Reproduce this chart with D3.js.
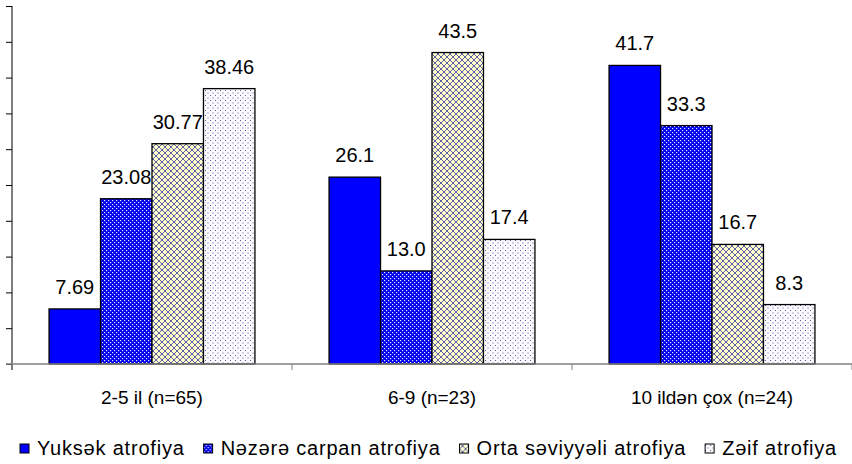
<!DOCTYPE html>
<html>
<head>
<meta charset="utf-8">
<script src="https://cdn.jsdelivr.net/npm/d3@7"></script>
<style>
  body { margin: 0; background: #fff; }
  text { font-family: "Liberation Sans", Arial, sans-serif; fill: #000; }
</style>
</head>
<body>
<div id="chart"></div>
<script>
// data
const categories = ["2-5 il (n=65)", "6-9 (n=23)", "10 ildən çox (n=24)"];
const seriesNames = ["Yuksək atrofiya", "Nəzərə carpan atrofiya", "Orta səviyyəli atrofiya", "Zəif atrofiya"];
const yuksek = [7.69, 26.1, 41.7];
const nezere = [23.08, 13.0, 33.3];
const orta   = [30.77, 43.5, 16.7];
const zeif   = [38.46, 17.4, 8.3];
const labels = [
  ["7.69", "26.1", "41.7"],
  ["23.08", "13.0", "33.3"],
  ["30.77", "43.5", "16.7"],
  ["38.46", "17.4", "8.3"]
];
const yTicks = [0, 5, 10, 15, 20, 25, 30, 35, 40, 45, 50];

const seriesValues = [yuksek, nezere, orta, zeif];

const width = 852, height = 464;
const svg = d3.select("#chart").append("svg")
  .attr("width", width)
  .attr("height", height);

// fill patterns like the old excel ones
const defs = svg.append("defs");

const p2 = defs.append("pattern").attr("id", "pat1")
  .attr("patternUnits", "userSpaceOnUse").attr("width", 4).attr("height", 4);
p2.append("rect").attr("width", 4).attr("height", 4).attr("fill", "#0000ee");
p2.append("rect").attr("x", 0).attr("y", 0).attr("width", 1.2).attr("height", 1.2).attr("fill", "#e8e8ff");
p2.append("rect").attr("x", 2).attr("y", 2).attr("width", 1.2).attr("height", 1.2).attr("fill", "#e8e8ff");

const p3 = defs.append("pattern").attr("id", "pat2")
  .attr("patternUnits", "userSpaceOnUse").attr("width", 6).attr("height", 6);
p3.append("rect").attr("width", 6).attr("height", 6).attr("fill", "#ffffcc");
p3.append("path").attr("d", "M0,0L6,6M6,0L0,6")
  .attr("stroke", "#5f5fa8").attr("stroke-width", 1);

const p4 = defs.append("pattern").attr("id", "pat3")
  .attr("patternUnits", "userSpaceOnUse").attr("width", 5).attr("height", 5);
p4.append("rect").attr("width", 5).attr("height", 5).attr("fill", "#fbfbff");
p4.append("rect").attr("x", 0).attr("y", 0).attr("width", 1).attr("height", 1).attr("fill", "#5a5a9a");
p4.append("rect").attr("x", 2.5).attr("y", 2.5).attr("width", 1).attr("height", 1).attr("fill", "#5a5a9a");

const fills = ["#0000ff", "url(#pat1)", "url(#pat2)", "url(#pat3)"];

// scales
const x = d3.scaleBand()
  .domain(categories)
  .range([12, 852])
  .paddingInner(0)
  .paddingOuter(0);

const xs = d3.scaleBand()
  .domain(d3.range(seriesNames.length))
  .range([0, x.bandwidth()])
  .paddingInner(0)
  .paddingOuter(0.72);

const y = d3.scaleLinear()
  .domain([0, 50])
  .range([364, 6]);

// y axis, no labels
svg.append("g")
  .attr("transform", "translate(12,0)")
  .call(d3.axisLeft(y).tickValues(yTicks).tickSize(6).tickSizeOuter(0).tickFormat(""))
  .call(g => g.selectAll("line").attr("stroke", "#000"))
  .call(g => g.select(".domain").attr("stroke", "#000").attr("d", `M0,${y(50)}V${y(0) + 6}`));

// bars
const series = svg.append("g");
seriesValues.forEach((vals, s) => {
  const g = series.append("g");
  g.selectAll("rect")
    .data(vals)
    .join("rect")
      .attr("x", (d, i) => x(categories[i]) + xs(s))
      .attr("y", d => y(d))
      .attr("width", xs.bandwidth())
      .attr("height", d => y(0) - y(d))
      .attr("fill", fills[s])
      .attr("stroke", "#000")
      .attr("stroke-width", 1.3);
  g.selectAll("text")
    .data(vals)
    .join("text")
      .attr("x", (d, i) => x(categories[i]) + xs(s) + xs.bandwidth() / 2)
      .attr("y", d => y(d) - 15)
      .attr("text-anchor", "middle")
      .style("font-size", "20px")
      .text((d, i) => labels[s][i]);
});

// x axis: grey baseline with ticks at the group boundaries
const xAxis = svg.append("g");
xAxis.append("line")
  .attr("x1", 6).attr("x2", 852)
  .attr("y1", y(0)).attr("y2", y(0))
  .attr("stroke", "#808080").attr("stroke-width", 1.5);
const bounds = categories.map(c => x(c)).concat([x.range()[1]]).slice(1);
xAxis.selectAll(".bt")
  .data(bounds)
  .join("line")
    .attr("class", "bt")
    .attr("x1", d => d).attr("x2", d => d)
    .attr("y1", y(0)).attr("y2", y(0) + 6)
    .attr("stroke", "#808080");
xAxis.selectAll("text")
  .data(categories)
  .join("text")
    .attr("x", d => x(d) + x.bandwidth() / 2)
    .attr("y", 404)
    .attr("text-anchor", "middle")
    .style("font-size", "19px")
    .text(d => d);

// legend
const legend = svg.append("g").attr("transform", "translate(20,455)");
let lx = 0;
seriesNames.forEach((name, s) => {
  const item = legend.append("g").attr("transform", `translate(${lx},0)`);
  item.append("rect")
    .attr("x", 0).attr("y", -11)
    .attr("width", 9).attr("height", 9)
    .attr("fill", fills[s])
    .attr("stroke", "#000");
  const t = item.append("text")
    .attr("x", 17).attr("y", 0)
    .style("font-size", "20px")
    .style("letter-spacing", "0.8px")
    .text(name);
  lx += 17 + t.node().getComputedTextLength() + 19;
});
</script>
</body>
</html>
